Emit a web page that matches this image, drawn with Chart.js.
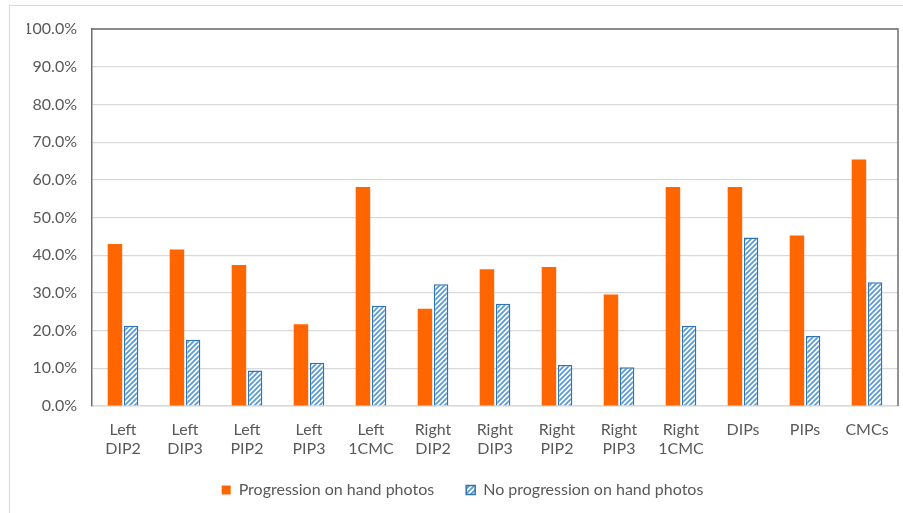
<!DOCTYPE html>
<html>
<head>
<meta charset="utf-8">
<script src="https://cdn.jsdelivr.net/npm/chart.js@4/dist/chart.umd.min.js"></script>
<style>
  html, body { margin: 0; padding: 0; background: #ffffff; }
  #frame { position: absolute; left: 9px; top: 5px; width: 894px; height: 508px;
           border-left: 1px solid #D9D9D9; border-top: 1px solid #D9D9D9; }
  #wrap { position: absolute; left: 0; top: 0; width: 903px; height: 513px; }
</style>
</head>
<body>
<div id="frame"></div>
<div id="wrap"><canvas id="chart" width="903" height="513"></canvas></div>
<script>
// Joint groups on the x axis (two-line labels)
const categories = [
  ['Left', 'DIP2'], ['Left', 'DIP3'], ['Left', 'PIP2'], ['Left', 'PIP3'], ['Left', '1CMC'],
  ['Right', 'DIP2'], ['Right', 'DIP3'], ['Right', 'PIP2'], ['Right', 'PIP3'], ['Right', '1CMC'],
  'DIPs', 'PIPs', 'CMCs'
];

// Percentage of joints in each group
const progression =   [43.0, 41.5, 37.4, 21.7, 58.1, 25.8, 36.3, 36.9, 29.6, 58.1, 58.1, 45.2, 65.4];
const noProgression = [21.3, 17.6,  9.4, 11.5, 26.6, 32.3, 27.1, 10.9, 10.3, 21.3, 44.7, 18.6, 32.8];

const seriesNames = ['Progression on hand photos', 'No progression on hand photos'];

// Y axis ticks 0.0% .. 100.0%
const yTicks = [0, 10, 20, 30, 40, 50, 60, 70, 80, 90, 100];

// Diagonal hatch fill for the second series
function makeHatch() {
  const s = 5;
  const c = document.createElement('canvas');
  c.width = s; c.height = s;
  const g = c.getContext('2d');
  g.fillStyle = '#ffffff';
  g.fillRect(0, 0, s, s);
  g.strokeStyle = '#5B9BD5';
  g.lineWidth = 1.8;
  g.beginPath();
  g.moveTo(-1, s + 1); g.lineTo(s + 1, -1);
  g.moveTo(-1, 1); g.lineTo(1, -1);
  g.moveTo(s - 1, s + 1); g.lineTo(s + 1, s - 1);
  g.stroke();
  return document.getElementById('chart').getContext('2d').createPattern(c, 'repeat');
}
const hatch = makeHatch();

// Dark frame on the top and right of the plot area
const plotFrame = {
  id: 'plotFrame',
  afterDatasetsDraw(chart) {
    const { ctx, chartArea: a } = chart;
    ctx.save();
    ctx.strokeStyle = '#6f6f6f';
    ctx.lineWidth = 1.5;
    ctx.beginPath();
    ctx.moveTo(a.left, a.top);
    ctx.lineTo(a.right, a.top);
    ctx.lineTo(a.right, a.bottom);
    ctx.stroke();
    ctx.restore();
  }
};

const FONT = "Lato, 'Open Sans', sans-serif";
const TEXT = '#595959';

new Chart(document.getElementById('chart'), {
  type: 'bar',
  data: {
    labels: categories,
    datasets: [
      {
        label: seriesNames[0],
        data: progression,
        backgroundColor: '#FF6600',
        borderWidth: 0,
        categoryPercentage: 0.52,
        barPercentage: 0.9
      },
      {
        label: seriesNames[1],
        data: noProgression,
        backgroundColor: hatch,
        borderColor: '#2E75B6',
        borderWidth: 1.5,
        categoryPercentage: 0.52,
        barPercentage: 0.9
      }
    ]
  },
  options: {
    responsive: false,
    animation: false,
    devicePixelRatio: 1,
    layout: { padding: { left: 27, right: 5, top: 29, bottom: 5 } },
    scales: {
      x: {
        grid: { display: false, drawTicks: false },
        border: { color: '#D9D9D9', width: 1.5 },
        afterFit(axis) { axis.height = 66; },
        ticks: {
          color: TEXT,
          font: { family: FONT, size: 16 },
          padding: 14,
          maxRotation: 0,
          autoSkip: false
        }
      },
      y: {
        min: 0,
        max: 100,
        afterBuildTicks(axis) { axis.ticks = yTicks.map(v => ({ value: v })); },
        afterFit(axis) { axis.width = 65; },
        grid: { color: '#D9D9D9', lineWidth: 1.2, drawTicks: false },
        border: { color: '#6f6f6f', width: 1.5 },
        ticks: {
          color: TEXT,
          font: { family: FONT, size: 16 },
          padding: 15,
          callback: v => v.toFixed(1) + '%'
        }
      }
    },
    plugins: {
      legend: {
        position: 'bottom',
        labels: {
          color: TEXT,
          font: { family: FONT, size: 16 },
          boxWidth: 9,
          boxHeight: 9,
          padding: 10,
          generateLabels(chart) {
            const items = Chart.defaults.plugins.legend.labels.generateLabels(chart);
            // widen the gap between the two entries
            items[0].text += '\u2003\u2002\u2009';
            return items;
          }
        }
      },
      tooltip: { enabled: false }
    }
  },
  plugins: [plotFrame]
});
</script>
</body>
</html>
